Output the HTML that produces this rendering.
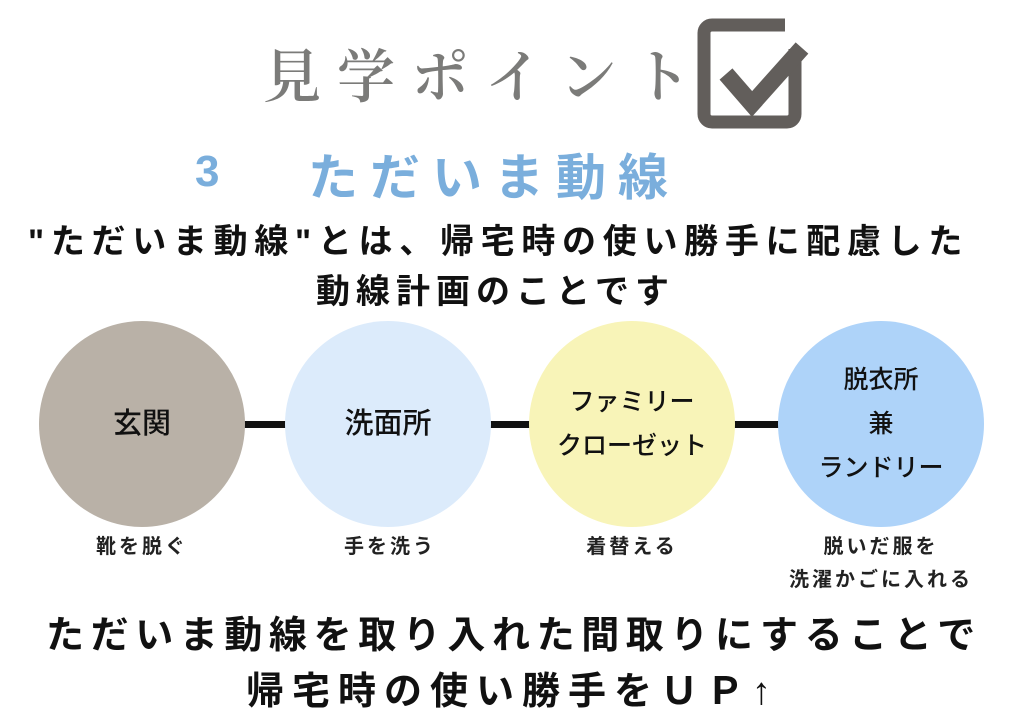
<!DOCTYPE html>
<html><head><meta charset="utf-8"><style>
body{margin:0;width:1024px;height:724px;background:#fff;position:relative;overflow:hidden;font-family:"Liberation Sans","Noto Sans CJK JP",sans-serif}
.a{position:absolute;white-space:nowrap}
.c{position:absolute;width:206px;height:206px;border-radius:50%;display:flex;align-items:center;justify-content:center;text-align:center;font-size:29px;line-height:42px;color:#111;font-weight:500}
.l{position:absolute;height:7px;background:#111;top:421px}
.s{position:absolute;width:260px;text-align:center;font-size:20px;letter-spacing:3px;font-weight:bold;color:#222}
</style></head><body>
<div class="a" style="left:263px;top:30px;font-family:'Noto Serif CJK SC',serif;font-weight:600;font-size:58px;letter-spacing:16px;color:#7b7b79">見学ポイント</div>
<svg class="a" style="left:690px;top:14px" width="120" height="118" viewBox="0 0 120 118">
<rect x="14" y="11" width="91" height="97" rx="8" fill="none" stroke="#625e5b" stroke-width="13"/>
<rect x="95" y="0" width="25" height="35" fill="#fff"/>
<polyline points="36,60 62,90 112,34" fill="none" stroke="#625e5b" stroke-width="17"/>
</svg>
<div class="a" style="left:195px;top:147px;font-size:44px;font-weight:bold;color:#7aaedc">3</div>
<div class="a" style="left:308px;top:138px;font-size:50px;font-weight:bold;color:#7aaedc;letter-spacing:12px">ただいま動線</div>
<div class="a" style="left:28px;top:214px;font-size:34px;font-weight:bold;letter-spacing:6.7px;color:#111">"ただいま動線"とは、帰宅時の使い勝手に配慮した</div>
<div class="a" style="left:316px;top:264px;font-size:34px;font-weight:bold;letter-spacing:6px;color:#111">動線計画のことです</div>
<div class="l" style="left:240px;width:50px"></div>
<div class="l" style="left:486px;width:50px"></div>
<div class="l" style="left:732px;width:50px"></div>
<div class="c" style="left:39px;top:321px;background:#b9b1a7">玄関</div>
<div class="c" style="left:285px;top:321px;background:#dcebfb">洗面所</div>
<div class="c" style="left:529px;top:321px;background:#f8f4b8;font-size:25px;line-height:44px">ファミリー<br>クローゼット</div>
<div class="c" style="left:778px;top:321px;background:#aed3f9;font-size:25px;line-height:44px">脱衣所<br>兼<br>ランドリー</div>
<div class="s" style="left:12px;top:530px">靴を脱ぐ</div>
<div class="s" style="left:260px;top:530px">手を洗う</div>
<div class="s" style="left:502px;top:530px">着替える</div>
<div class="s" style="left:751px;top:530px">脱いだ服を</div>
<div class="s" style="left:751px;top:563px">洗濯かごに入れる</div>
<div class="a" style="left:46px;top:604px;font-size:38px;font-weight:bold;letter-spacing:6.6px;color:#111">ただいま動線を取り入れた間取りにすることで</div>
<div class="a" style="left:246px;top:660px;font-size:38px;font-weight:bold;letter-spacing:8px;color:#111">帰宅時の使い勝手をＵＰ↑</div>
</body></html>
